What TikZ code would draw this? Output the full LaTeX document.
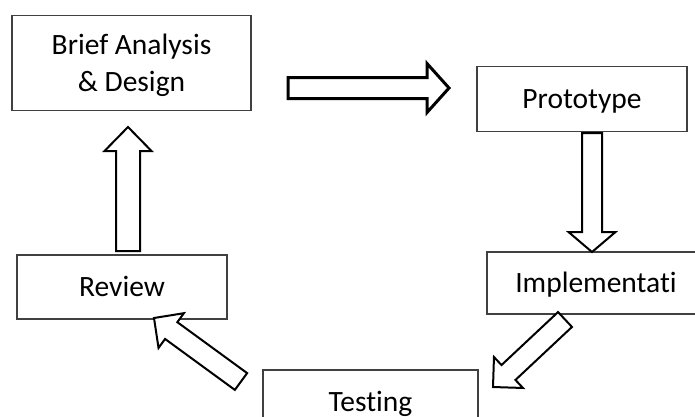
\documentclass[tikz,border=0pt]{standalone}
\usepackage{fontspec}
\setmainfont{Carlito}[Ligatures=NoCommon]
\usetikzlibrary{calc}
\tikzset{
  box/.style={draw=black!75, line width=1.3pt, fill=white, rectangle, align=center,
    font=\fontsize{29.5}{37}\selectfont, inner sep=0pt, text height=19pt, text depth=0pt},
  barrow/.style={draw=black, line width=2pt, fill=white, line join=miter},
}
\newcommand\blockarrow[6][]{%
  \coordinate (bh) at ($(#3)!#6!(#2)$);
  \draw[barrow,#1] ($(#2)!#4!90:(#3)$) -- ($(bh)!#4!90:(#3)$) -- ($(bh)!#5!90:(#3)$)
    -- (#3) -- ($(bh)!#5!-90:(#3)$) -- ($(bh)!#4!-90:(#3)$) -- ($(#2)!#4!-90:(#3)$) -- cycle;
}
\begin{document}
\begin{tikzpicture}[x=1pt,y=-1pt]
\clip (0,0) rectangle (695,416);
\fill[white] (0,0) rectangle (695,416);
% boxes
\node[box, text height=56pt, minimum width=239pt, minimum height=95pt] (brief) at (131.5,63)
  {Brief Analysis\\ \& Design};
\node[box, minimum width=210pt, minimum height=65pt] (proto) at (582,99) {Prototype};
\node[box, minimum width=218pt, minimum height=62pt] (impl) at (596,283) {Implementati};
\node[box, minimum width=215pt, minimum height=64pt] (test) at (370.5,402) {Testing};
\node[box, minimum width=210pt, minimum height=64pt] (review) at (122,287) {Review};
% arrow end points
\coordinate (a1t) at (288,88);  \coordinate (a1p) at (449,88);
\coordinate (a2t) at (592,133); \coordinate (a2p) at (592,252);
\coordinate (a3t) at (565,319.5); \coordinate (a3p) at (493,387);
\coordinate (a4t) at (241,381.5); \coordinate (a4p) at (154,318);
\coordinate (a5t) at (128,251); \coordinate (a5p) at (128,127);
% block arrows
\blockarrow[line width=3pt]{a1t}{a1p}{10.5pt}{24.5pt}{22pt}
\blockarrow{a2t}{a2p}{10pt}{23.5pt}{20pt}
\blockarrow{a3t}{a3p}{10.2pt}{21.2pt}{21.2pt}
\blockarrow{a4t}{a4p}{10.4pt}{21.5pt}{21.3pt}
\blockarrow{a5t}{a5p}{12pt}{23.5pt}{24pt}
\end{tikzpicture}
\end{document}
